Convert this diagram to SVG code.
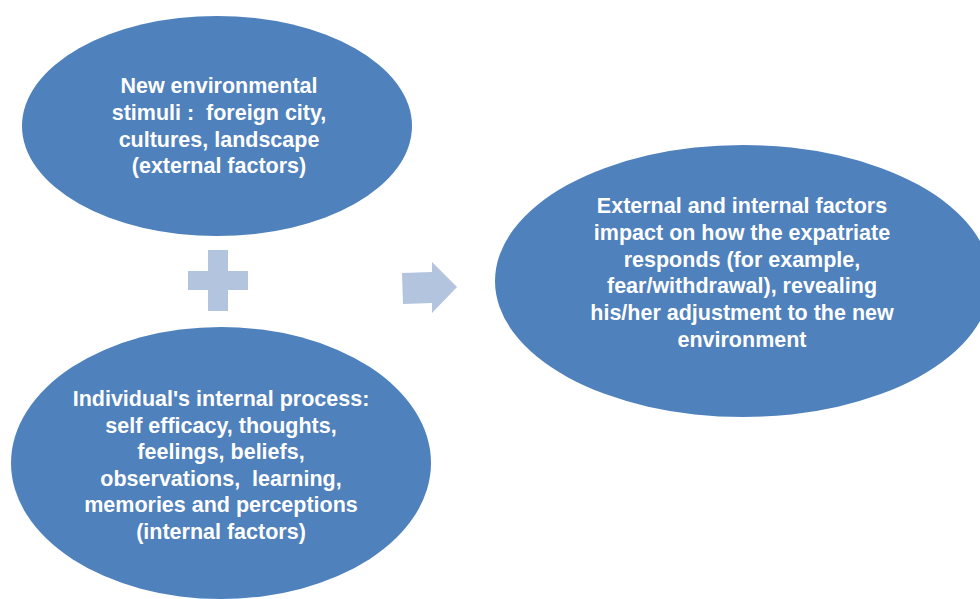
<svg xmlns="http://www.w3.org/2000/svg" width="980" height="599" viewBox="0 0 980 599">
<style>
.node{fill:#4F81BD;}
.sym{fill:#B3C4DE;}
.t{font-family:"Liberation Sans",Arial,sans-serif;font-weight:bold;font-size:21.5px;fill:#FFFFFF;text-anchor:middle;white-space:pre;}
</style>
<rect width="980" height="599" fill="#FFFFFF"/>
<g id="external">
<ellipse class="node" cx="217" cy="126" rx="195" ry="110"/>
<text class="t" xml:space="preserve"><tspan x="219" y="93">New environmental</tspan><tspan x="219" y="120">stimuli :  foreign city,</tspan><tspan x="219" y="147">cultures, landscape</tspan><tspan x="219" y="173">(external factors)</tspan></text>
</g>
<g id="internal">
<ellipse class="node" cx="221" cy="463" rx="210" ry="136"/>
<text class="t" xml:space="preserve"><tspan x="221" y="406">Individual's internal process:</tspan><tspan x="221" y="433">self efficacy, thoughts,</tspan><tspan x="221" y="459">feelings, beliefs,</tspan><tspan x="221" y="486">observations,  learning,</tspan><tspan x="221" y="512">memories and perceptions</tspan><tspan x="221" y="539">(internal factors)</tspan></text>
</g>
<g id="outcome">
<ellipse class="node" cx="743" cy="281" rx="248" ry="136"/>
<text class="t"><tspan x="742" y="213">External and internal factors</tspan><tspan x="742" y="240">impact on how the expatriate</tspan><tspan x="742" y="267">responds (for example,</tspan><tspan x="742" y="293">fear/withdrawal), revealing</tspan><tspan x="742" y="320">his/her adjustment to the new</tspan><tspan x="742" y="347">environment</tspan></text>
</g>
<g id="connectors">
<path class="sym" d="M208,250 H228 V271 H248 V290 H228 V311 H208 V290 H188 V271 H208 Z"/>
<path class="sym" d="M402,273 L432,272 V262 L457,287 L432,313 V303 L403,304 Z"/>
</g>
</svg>
